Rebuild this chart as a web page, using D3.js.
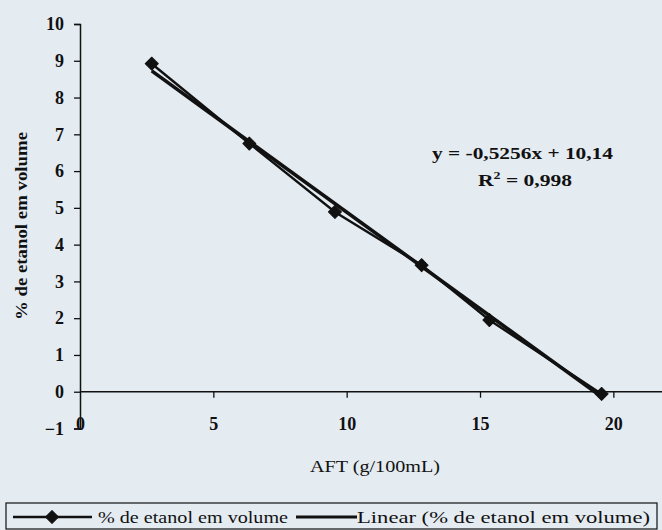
<!DOCTYPE html>
<html><head><meta charset="utf-8">
<script src="https://cdn.jsdelivr.net/npm/d3@7/dist/d3.min.js"></script>
<style>
html,body{margin:0;padding:0;background:#e4ebf1;}
svg{display:block;}
text{font-family:"Liberation Serif","DejaVu Serif",serif;fill:#111;}
</style></head>
<body>
<svg id="c" width="662" height="530"></svg>
<script>
const aft = [2.69, 6.35, 9.56, 12.81, 15.35, 19.56];
const etanol = [8.92, 6.75, 4.89, 3.44, 1.95, -0.06];
const slope = -0.5256, intercept = 10.14;
const xTicks = [0, 5, 10, 15, 20];
const yTicks = [-1, 0, 1, 2, 3, 4, 5, 6, 7, 8, 9, 10];
const eqText = "y = -0,5256x + 10,14";
const r2Value = "0,998";
const xTitle = "AFT (g/100mL)";
const yTitle = "% de etanol em volume";
const legendLabels = ["% de etanol em volume", "Linear (% de etanol em volume)"];

const svg = d3.select("#c");
const x = d3.scaleLinear().domain([0, 25]).range([80, 746.7]);
const y = d3.scaleLinear().domain([-1, 10]).range([428.5, 24]);
const ink = "#111";

// y axis
const yAx = svg.append("g").attr("transform", `translate(${x(0)},0)`)
  .call(d3.axisLeft(y).tickValues(yTicks).tickSize(6).tickPadding(10).tickFormat(d3.format("d")));
// x axis at y=0
const xAx = svg.append("g").attr("transform", `translate(0,${y(0)})`)
  .call(d3.axisBottom(x).tickValues(xTicks).tickSize(6).tickPadding(0).tickFormat(d3.format("d")));
[yAx, xAx].forEach(g => {
  g.select(".domain").attr("stroke", ink).attr("stroke-width", 1.5);
  g.selectAll(".tick line").attr("stroke", ink).attr("stroke-width", 1.3);
  g.selectAll("text").attr("fill", ink).style("font-size", "18px").style("font-weight", "bold")
    .style("font-family", '"Liberation Serif",serif');
});
xAx.select(".domain").attr("d", `M${x(0)},0H662`);
xAx.selectAll(".tick text").attr("y", 38).attr("dy", 0);
xAx.selectAll(".tick").filter(d => d === 0).select("line").remove();

// series line
const line = d3.line().x((d, i) => x(aft[i])).y(d => y(d));
svg.append("path").datum(etanol).attr("d", line)
  .attr("fill", "none").attr("stroke", ink).attr("stroke-width", 2.4);

// trendline
const x0 = d3.min(aft), x1 = d3.max(aft);
svg.append("line")
  .attr("x1", x(x0)).attr("y1", y(slope * x0 + intercept))
  .attr("x2", x(x1)).attr("y2", y(slope * x1 + intercept))
  .attr("stroke", ink).attr("stroke-width", 3.6);

// markers (Excel diamond = rotated square)
const diamond = d3.symbol().type(d3.symbolSquare).size(85);
svg.append("g").selectAll("path").data(etanol).join("path")
  .attr("d", diamond)
  .attr("transform", (d, i) => `translate(${x(aft[i])},${y(d)}) rotate(45)`)
  .attr("fill", ink).attr("stroke", ink).attr("stroke-width", 1).attr("stroke-linejoin", "round");

// equation
svg.append("text").attr("x", 432).attr("y", 159)
  .attr("textLength", 181).attr("lengthAdjust", "spacingAndGlyphs")
  .style("font-size", "17px").style("font-weight", "bold").text(eqText);
const r2 = svg.append("text").attr("x", 478).attr("y", 186)
  .attr("textLength", 94).attr("lengthAdjust", "spacingAndGlyphs")
  .style("font-size", "17px").style("font-weight", "bold");
r2.append("tspan").text("R");
r2.append("tspan").attr("dy", -7).style("font-size", "11px").text("2");
r2.append("tspan").attr("dy", 7).text(" = " + r2Value);

// axis titles
svg.append("text").attr("x", 310).attr("y", 472)
  .attr("textLength", 130).attr("lengthAdjust", "spacingAndGlyphs")
  .style("font-size", "17px").text(xTitle);
svg.append("text").attr("transform", "translate(27,226) rotate(-90)").attr("text-anchor", "middle")
  .attr("textLength", 188).attr("lengthAdjust", "spacingAndGlyphs")
  .style("font-size", "17px").style("font-weight", "bold").text(yTitle);

// legend
const lg = svg.append("g");
lg.append("rect").attr("x", 6).attr("y", 503).attr("width", 651).attr("height", 26)
  .attr("fill", "none").attr("stroke", ink).attr("stroke-width", 1.2);
lg.append("line").attr("x1", 13).attr("x2", 92).attr("y1", 517).attr("y2", 517)
  .attr("stroke", ink).attr("stroke-width", 2.4);
lg.append("path").attr("d", diamond).attr("transform", "translate(52,517) rotate(45)")
  .attr("fill", ink).attr("stroke", ink).attr("stroke-width", 1).attr("stroke-linejoin", "round");
lg.append("text").attr("x", 98).attr("y", 523)
  .attr("textLength", 190).attr("lengthAdjust", "spacingAndGlyphs")
  .style("font-size", "17px").text(legendLabels[0]);
lg.append("line").attr("x1", 296).attr("x2", 357).attr("y1", 517).attr("y2", 517)
  .attr("stroke", ink).attr("stroke-width", 3.2);
lg.append("text").attr("x", 357).attr("y", 523)
  .attr("textLength", 293).attr("lengthAdjust", "spacingAndGlyphs")
  .style("font-size", "17px").text(legendLabels[1]);
</script>
</body></html>
